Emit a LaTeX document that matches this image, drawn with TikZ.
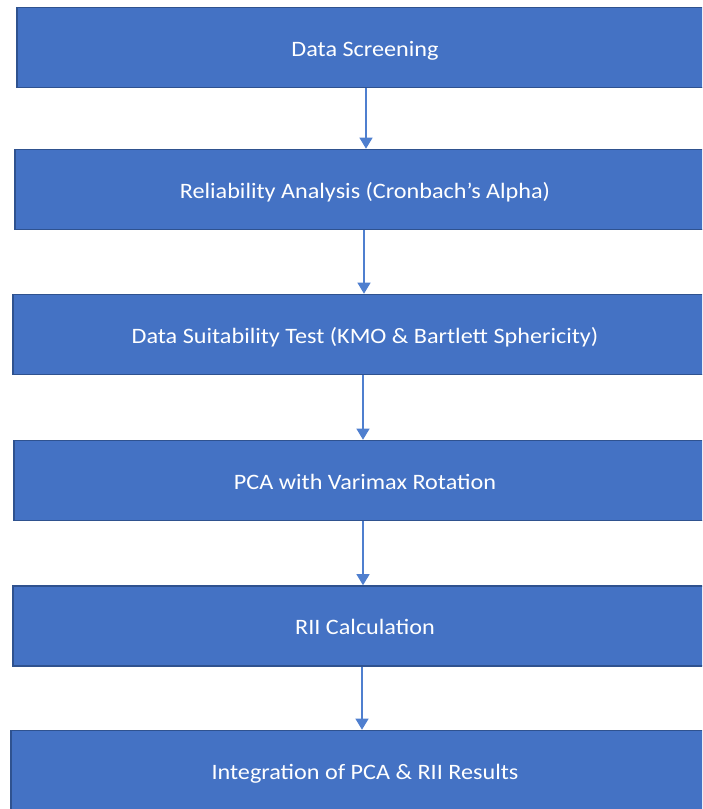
\documentclass[tikz,border=0pt]{standalone}
\usepackage{fontspec}
\setmainfont[FakeStretch=1.1]{Carlito}
\usetikzlibrary{arrows.meta}
\definecolor{boxfill}{HTML}{4472C4}
\definecolor{boxline}{HTML}{2F528F}
\definecolor{arrowcol}{HTML}{4F7FCF}
\tikzset{
  stagebox/.style={draw=boxline, line width=1.6pt, fill=boxfill, text=white,
    minimum height=80pt, inner sep=0pt, text height=18.5pt, text depth=1.5pt,
    font=\fontsize{22}{26}\selectfont},
  flowarrow/.style={draw=arrowcol, line width=1.1pt,
    -{Triangle[width=13pt,length=11pt]}}
}
\begin{document}
\begin{tikzpicture}[x=1pt,y=1pt]
\useasboundingbox (0,0) rectangle (702,-809);
\clip (0,0) rectangle (702,-809);
\node[stagebox, minimum width=696pt] (s1) at (365,-47.5) {Data Screening};
\node[stagebox, minimum width=700pt] (s2) at (365,-189.5) {Reliability Analysis (Cronbach’s Alpha)};
\node[stagebox, minimum width=704pt] (s3) at (365,-334.5) {Data Suitability Test (KMO \& Bartlett Sphericity)};
\node[stagebox, minimum width=702pt] (s4) at (365,-480.5) {PCA with Varimax Rotation};
\node[stagebox, minimum width=704pt] (s5) at (365,-626) {RII Calculation};
\node[stagebox, minimum width=708pt] (s6) at (365,-770.5) {Integration of PCA \& RII Results};
\draw[flowarrow] ([xshift=1pt]s1.south) -- ([xshift=1pt]s2.north);
\draw[flowarrow] ([xshift=-1pt]s2.south) -- ([xshift=-1pt]s3.north);
\draw[flowarrow] ([xshift=-2pt]s3.south) -- ([xshift=-2pt]s4.north);
\draw[flowarrow] ([xshift=-2pt]s4.south) -- ([xshift=-2pt]s5.north);
\draw[flowarrow] ([xshift=-3pt]s5.south) -- ([xshift=-3pt]s6.north);
\end{tikzpicture}
\end{document}
